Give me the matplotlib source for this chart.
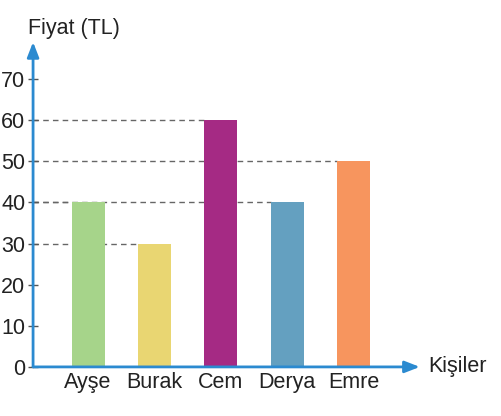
import matplotlib
matplotlib.use('Agg')
import matplotlib.pyplot as plt

# Veriler
kisiler = ['Ayşe', 'Burak', 'Cem', 'Derya', 'Emre']
fiyatlar = [40, 30, 60, 40, 50]
renkler = ['#a6d48a', '#e9d672', '#a52a84', '#64a0c0', '#f7955e']
y_ticks = [0, 10, 20, 30, 40, 50, 60, 70]

plt.rcParams['font.family'] = ['Liberation Sans', 'DejaVu Sans']

fig = plt.figure(figsize=(5.01, 4.16), dpi=100)
ax = fig.add_axes([0.066, 0.118, 0.772, 0.781])

x = list(range(len(kisiler)))
ax.set_xlim(-0.83, 5.0)
ax.set_ylim(0, 79)

# kesikli yatay çizgiler (eksenden çubuğun sol kenarına)
for i, v in enumerate(fiyatlar):
    ax.plot([-0.83, x[i] - 0.25], [v, v], linestyle=(0, (4, 3)),
            color='#666666', linewidth=1, zorder=1)

ax.bar(x, fiyatlar, width=0.5, color=renkler, zorder=2)

# eksenler
for s in ax.spines.values():
    s.set_visible(False)
axis_blue = '#2b8ad0'
ok = dict(arrowstyle='-|>,head_length=0.9,head_width=0.35',
          color=axis_blue, lw=2, shrinkA=0, shrinkB=0)
ax.annotate('', xy=(5.0, 0), xytext=(-0.83, 0), arrowprops=ok,
            annotation_clip=False)
ax.annotate('', xy=(-0.83, 79), xytext=(-0.83, 0), arrowprops=ok,
            annotation_clip=False)

ax.set_yticks(y_ticks)
ax.set_yticklabels([str(t) for t in y_ticks], fontsize=15.5, color='#222222')
ax.tick_params(axis='y', direction='inout', length=7, width=1,
               color='#555555', pad=2)
ax.set_xticks(x)
ax.set_xticklabels(kisiler, fontsize=15.5, color='#222222')
ax.tick_params(axis='x', length=0, pad=4)

ax.text(-0.9, 79.8, 'Fiyat (TL)', fontsize=15.5, color='#222222',
        ha='left', va='bottom', clip_on=False)
ax.text(5.12, 0, 'Kişiler', fontsize=15.5, color='#222222',
        ha='left', va='center', clip_on=False)

plt.savefig('out.png', dpi=100)
